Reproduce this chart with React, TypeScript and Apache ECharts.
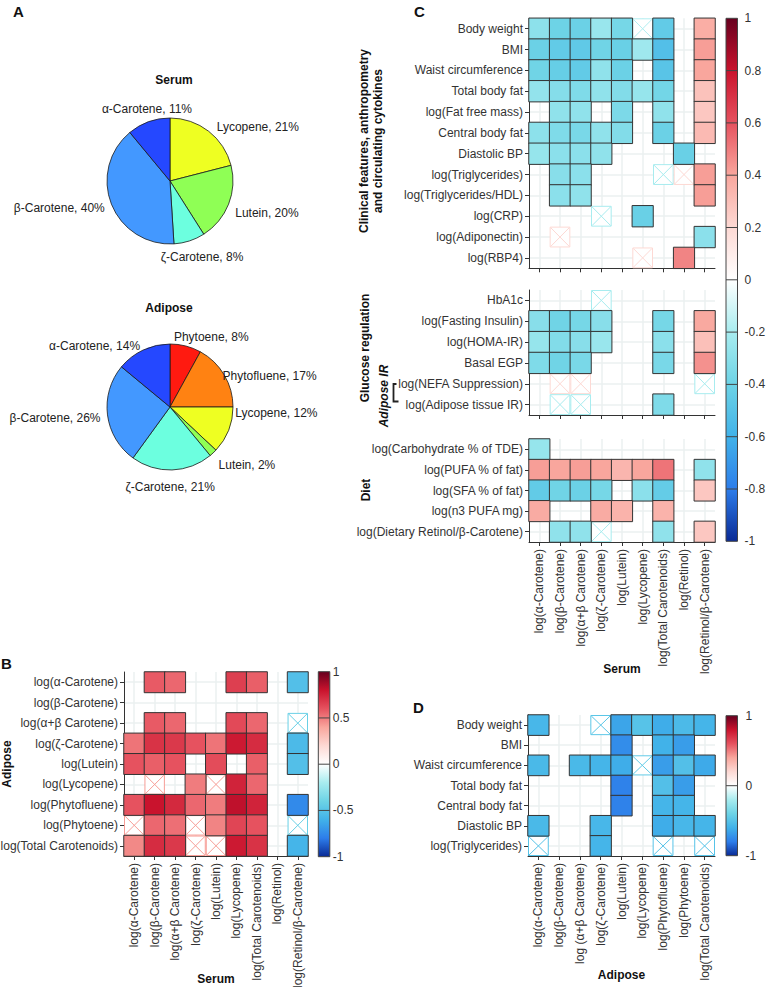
import React, { useEffect, useRef } from 'react';
import * as echarts from 'echarts';

// ---------- Data ----------
const serumPieNames = ['Lycopene', 'Lutein', 'ζ-Carotene', 'β-Carotene', 'α-Carotene'];
const serumPieValues = [21, 20, 8, 40, 11];
const adiposePieNames = ['Phytoene', 'Phytofluene', 'Lycopene', 'Lutein', 'ζ-Carotene', 'β-Carotene', 'α-Carotene'];
const adiposePieValues = [8, 17, 12, 2, 21, 26, 14];

const serumCols = ['log(α-Carotene)', 'log(β-Carotene)', 'log(α+β Carotene)', 'log(ζ-Carotene)', 'log(Lutein)', 'log(Lycopene)', 'log(Total Carotenoids)', 'log(Retinol)', 'log(Retinol/β-Carotene)'];
const adiposeRowsB = ['log(α-Carotene)', 'log(β-Carotene)', 'log(α+β Carotene)', 'log(ζ-Carotene)', 'log(Lutein)', 'log(Lycopene)', 'log(Phytofluene)', 'log(Phytoene)', 'log(Total Carotenoids)'];
const adiposeColsD = ['log(α-Carotene)', 'log(β-Carotene)', 'log (α+β Carotene)', 'log(ζ-Carotene)', 'log(Lutein)', 'log(Lycopene)', 'log(Phytofluene)', 'log(Phytoene)', 'log(Total Carotenoids)'];
const c1Rows = ['Body weight', 'BMI', 'Waist circumference', 'Total body fat', 'log(Fat free mass)', 'Central body fat', 'Diastolic BP', 'log(Triglycerides)', 'log(Triglycerides/HDL)', 'log(CRP)', 'log(Adiponectin)', 'log(RBP4)'];
const c2Rows = ['HbA1c', 'log(Fasting Insulin)', 'log(HOMA-IR)', 'Basal EGP', 'log(NEFA Suppression)', 'log(Adipose tissue IR)'];
const c3Rows = ['log(Carbohydrate % of TDE)', 'log(PUFA % of fat)', 'log(SFA % of fat)', 'log(n3 PUFA mg)', 'log(Dietary Retinol/β-Carotene)'];
const dRows = ['Body weight', 'BMI', 'Waist circumference', 'Total body fat', 'Central body fat', 'Diastolic BP', 'log(Triglycerides)'];

const _ = null;
const bValues = [
  [_, 0.58, 0.55, _, _, 0.66, 0.57, _, -0.52],
  [_, _, _, _, _, _, _, _, _],
  [_, 0.58, 0.55, _, _, 0.63, 0.55, _, -0.42],
  [0.52, 0.7, 0.68, 0.6, 0.52, 0.78, 0.72, _, -0.55],
  [0.6, 0.57, 0.6, _, 0.62, _, 0.57, _, -0.52],
  [_, 0.42, _, 0.5, 0.42, 0.75, 0.55, _, _],
  [0.6, 0.8, 0.73, 0.55, 0.5, 0.82, 0.75, _, -0.75],
  [0.42, 0.55, 0.53, 0.42, 0.48, 0.64, 0.6, _, -0.42],
  [0.47, 0.72, 0.68, 0.42, 0.42, 0.78, 0.7, _, -0.58],
];
const bCrossed = [[2, 8], [5, 1], [5, 4], [7, 0], [7, 3], [7, 8], [8, 3], [8, 4]];

const c1Values = [
  [-0.29, -0.4, -0.41, -0.25, -0.37, -0.18, -0.45, _, 0.37],
  [-0.41, -0.45, -0.46, -0.39, -0.42, -0.23, -0.52, _, 0.42],
  [-0.39, -0.43, -0.45, -0.28, -0.41, _, -0.49, _, 0.4],
  [-0.27, -0.32, -0.34, -0.28, -0.33, -0.26, -0.38, _, 0.29],
  [_, -0.28, -0.28, _, -0.35, _, -0.28, _, 0.27],
  [-0.29, -0.34, -0.36, -0.28, -0.33, _, -0.41, _, 0.32],
  [-0.26, -0.3, -0.3, -0.28, _, _, _, -0.42, _],
  [_, -0.31, -0.3, _, _, _, -0.2, 0.2, 0.42],
  [_, -0.3, -0.28, _, _, _, _, _, 0.42],
  [_, _, _, -0.2, _, -0.42, _, _, _],
  [_, 0.2, _, _, _, _, _, _, -0.3],
  [_, _, _, _, _, 0.2, _, 0.48, _],
];
const c1Crossed = [[0, 5], [7, 6], [7, 7], [9, 3], [10, 1], [11, 5]];

const c2Values = [
  [_, _, _, -0.2, _, _, _, _, _],
  [-0.31, -0.39, -0.37, -0.31, _, _, -0.37, _, 0.39],
  [-0.26, -0.33, -0.31, -0.25, _, _, -0.3, _, 0.3],
  [-0.34, -0.39, -0.36, _, _, _, -0.36, _, 0.45],
  [_, 0.2, 0.2, _, _, _, _, _, -0.2],
  [_, -0.2, -0.2, _, _, _, -0.34, _, _],
];
const c2Crossed = [[0, 3], [4, 1], [4, 2], [4, 8], [5, 1], [5, 2]];

const c3Values = [
  [-0.26, _, _, _, _, _, _, _, _],
  [0.42, 0.4, 0.42, 0.4, 0.34, 0.4, 0.52, _, -0.28],
  [-0.45, -0.39, -0.41, -0.37, _, -0.3, -0.44, _, 0.27],
  [0.38, _, _, 0.38, 0.35, _, 0.35, _, _],
  [_, -0.28, -0.28, -0.2, _, _, -0.28, _, 0.27],
];
const c3Crossed = [[4, 3]];

const dValues = [
  [-0.57, _, _, -0.48, -0.65, -0.5, -0.62, -0.55, -0.58],
  [_, _, _, _, -0.74, _, -0.6, -0.68, _],
  [-0.56, _, -0.56, -0.58, -0.62, -0.45, -0.68, -0.52, -0.63],
  [_, _, _, _, -0.78, _, -0.52, -0.68, _],
  [_, _, _, _, -0.78, _, -0.58, -0.58, _],
  [-0.56, _, _, -0.57, _, _, -0.62, -0.57, -0.58],
  [-0.5, _, _, -0.58, _, _, -0.5, _, -0.5],
];
const dCrossed = [[0, 3], [2, 5], [6, 0], [6, 6], [6, 8]];

const cTicks = [1, 0.8, 0.6, 0.4, 0.2, 0, -0.2, -0.4, -0.6, -0.8, -1];
const bTicks = [1, 0.5, 0, -0.5, -1];
const dTicks = [1, 0, -1];

// ---------- Styles ----------
const FONT = "'Liberation Sans', Arial, Helvetica, sans-serif";
const palette = ['#0A2A95', '#2D7DEA', '#41B2E9', '#6DD3E6', '#A8ECEF', '#FFFFFF', '#FDD9D4', '#F9A69D', '#E6525F', '#C9132D', '#67001F'];
const pieColors: Record<string, string> = {
  'Phytoene': '#FF1A10', 'Phytofluene': '#FF8212', 'Lycopene': '#EEFF22', 'Lutein': '#8FFF55',
  'ζ-Carotene': '#6CFFDF', 'β-Carotene': '#4398FF', 'α-Carotene': '#2548FF',
};
const serumNudge = [{ dx: 3, dy: 0 }, { dx: 0, dy: 7 }, { align: 'center', dx: 9, dy: 11 }, { dx: 0, dy: 2 }, { align: 'center', dx: 2, dy: -8 }];
const adiposeNudge = [{ dx: -15, dy: -4 }, { dx: -8, dy: 4 }, { dx: 0, dy: -19 }, { dx: 0, dy: 8 }, { align: 'center', dx: -4, dy: 12 }, { dx: 0, dy: 2 }, { dx: 1, dy: 1 }];

function splitCells(values: (number | null)[][], crossed: number[][]) {
  const sig: number[][] = [];
  const ns: number[][] = [];
  values.forEach((row, r) => row.forEach((v, c) => {
    if (v === null) return;
    const isX = crossed.some(([rr, cc]) => rr === r && cc === c);
    (isX ? ns : sig).push([c, r, v]);
  }));
  return { sig, ns };
}

const renderCross = (params: any, api: any) => {
  const p = api.coord([api.value(0), api.value(1)]);
  const s = api.size([1, 1]);
  const w = s[0], h = s[1];
  const x0 = p[0] - w / 2, y0 = p[1] - h / 2;
  const color = api.visual('color');
  return {
    type: 'group',
    children: [
      { type: 'rect', shape: { x: x0 + 0.5, y: y0 + 0.5, width: w - 1, height: h - 1 }, style: { fill: '#fff', stroke: color, lineWidth: 1 } },
      { type: 'line', shape: { x1: x0 + 1, y1: y0 + 1, x2: x0 + w - 1, y2: y0 + h - 1 }, style: { stroke: color, lineWidth: 1 } },
      { type: 'line', shape: { x1: x0 + w - 1, y1: y0 + 1, x2: x0 + 1, y2: y0 + h - 1 }, style: { stroke: color, lineWidth: 1 } },
    ],
  };
};

function catAxis(gridIndex: number, data: string[], isX: boolean, showLabels: boolean, name?: string, nameGap?: number) {
  return {
    type: 'category', gridIndex, data, inverse: !isX,
    axisLine: { show: true, lineStyle: { color: '#333', width: 1 } },
    axisTick: { show: true, alignWithLabel: true, interval: 0, length: 4, lineStyle: { color: '#333', width: 1 } },
    axisLabel: { show: showLabels, interval: 0, rotate: isX ? 90 : 0, fontSize: 12, color: '#333', margin: isX ? 7 : 6, fontFamily: FONT },
    splitLine: { show: true, alignWithLabel: true, interval: 0, lineStyle: { color: '#EBF1F1', width: 1.5 } },
    name: name || '', nameLocation: 'middle', nameGap: nameGap || 0, nameMoveOverlap: false,
    nameTextStyle: { fontSize: 12, fontWeight: 'bold', color: '#111', fontFamily: FONT },
  };
}

function colorbar(x: number, top: number, bottom: number, ticks: number[], labelGap: number) {
  const w = 11.5;
  const h = bottom - top;
  const yOf = (v: number) => top + ((1 - v) / 2) * h;
  const stops = palette.map((c, i) => ({ offset: 1 - i / (palette.length - 1), color: c })).reverse();
  const els: any[] = [
    { type: 'rect', shape: { x, y: top, width: w, height: h }, style: { fill: { type: 'linear', x: 0, y: 0, x2: 0, y2: 1, colorStops: stops }, stroke: '#444', lineWidth: 1 } },
  ];
  ticks.forEach((v) => {
    if (v < 1 && v > -1) {
      els.push({ type: 'line', shape: { x1: x, y1: yOf(v), x2: x + w, y2: yOf(v) }, style: { stroke: '#444', lineWidth: 1 } });
    }
    els.push({ type: 'text', x: x + w + labelGap, y: yOf(v), style: { text: String(v), fontSize: 12, fontFamily: FONT, fill: '#333', align: 'left', verticalAlign: 'middle' } });
  });
  return els;
}

function txt(text: string, x: number, y: number, opts: any = {}) {
  return {
    type: 'text', x, y, rotation: opts.rotation || 0,
    style: {
      text, fontSize: opts.fontSize || 12, fontWeight: opts.fontWeight || 'bold', fontStyle: opts.fontStyle || 'normal',
      fontFamily: FONT, fill: opts.fill || '#111', align: 'center', verticalAlign: 'middle', lineHeight: opts.lineHeight || 14,
    },
  };
}

export default function App() {
  const ref = useRef<HTMLDivElement>(null);
  useEffect(() => {
    if (!ref.current) return;
    const chart = echarts.init(ref.current, undefined, { renderer: 'svg' });

    const B = splitCells(bValues, bCrossed);
    const C1 = splitCells(c1Values, c1Crossed);
    const C2 = splitCells(c2Values, c2Crossed);
    const C3 = splitCells(c3Values, c3Crossed);
    const D = splitCells(dValues, dCrossed);

    const heat = (i: number, data: number[][]) => ({
      type: 'heatmap', xAxisIndex: i, yAxisIndex: i, data, z: 3,
      itemStyle: { borderColor: '#333', borderWidth: 1 }, emphasis: { disabled: true },
    });
    const cross = (i: number, data: number[][]) => ({
      type: 'custom', xAxisIndex: i, yAxisIndex: i, data, z: 2, silent: true,
      encode: { x: 0, y: 1 }, renderItem: renderCross,
    });

    const pie = (names: string[], values: number[], center: number[], nudge: any[]) => ({
      type: 'pie', center, radius: 63, startAngle: 90, clockwise: true, avoidLabelOverlap: false,
      data: names.map((n, i) => ({ name: n, value: values[i], itemStyle: { color: pieColors[n] } })),
      itemStyle: { borderColor: '#1a1a1a', borderWidth: 0.8 },
      label: { show: true, position: 'outside', formatter: '{b}, {c}%', fontSize: 12, color: '#222', fontFamily: FONT, distanceToLabelLine: 2 },
      labelLine: { show: false, length: 5, length2: 0 },
      labelLayout: (p: any) => nudge[p.dataIndex],
      emphasis: { disabled: true }, silent: true,
    });

    const option: any = {
      animation: false,
      textStyle: { fontFamily: FONT },
      grid: [
        { left: 124, top: 672, width: 184, height: 184, containLabel: false, outerBoundsMode: 'none' },
        { left: 529, top: 18.3, width: 186, height: 250, containLabel: false, outerBoundsMode: 'none' },
        { left: 529, top: 290, width: 186, height: 125, containLabel: false, outerBoundsMode: 'none' },
        { left: 529, top: 439, width: 186, height: 103, containLabel: false, outerBoundsMode: 'none' },
        { left: 528, top: 715, width: 187, height: 141, containLabel: false, outerBoundsMode: 'none' },
      ],
      xAxis: [
        catAxis(0, serumCols, true, true, 'Serum', 117),
        catAxis(1, serumCols, true, false),
        catAxis(2, serumCols, true, false),
        catAxis(3, serumCols, true, true, 'Serum', 121),
        catAxis(4, adiposeColsD, true, true, 'Adipose', 113),
      ],
      yAxis: [
        catAxis(0, adiposeRowsB, false, true, 'Adipose', 111),
        catAxis(1, c1Rows, false, true),
        catAxis(2, c2Rows, false, true),
        catAxis(3, c3Rows, false, true),
        catAxis(4, dRows, false, true),
      ],
      visualMap: [{
        type: 'continuous', show: false, min: -1, max: 1, dimension: 2,
        seriesIndex: [2, 3, 4, 5, 6, 7, 8, 9, 10, 11], inRange: { color: palette },
      }],
      series: [
        pie(serumPieNames, serumPieValues, [170, 181], serumNudge),
        pie(adiposePieNames, adiposePieValues, [170, 407], adiposeNudge),
        heat(0, B.sig), cross(0, B.ns),
        heat(1, C1.sig), cross(1, C1.ns),
        heat(2, C2.sig), cross(2, C2.ns),
        heat(3, C3.sig), cross(3, C3.ns),
        heat(4, D.sig), cross(4, D.ns),
      ],
      graphic: [
        txt('A', 18.5, 11, { fontSize: 15 }),
        txt('B', 6.5, 663, { fontSize: 15 }),
        txt('C', 419.5, 11, { fontSize: 15 }),
        txt('D', 418.5, 707, { fontSize: 15 }),
        txt('Serum', 174, 80),
        txt('Adipose', 169, 308),
        txt('Clinical features, anthropometry\nand circulating cytokines', 370.5, 141, { rotation: Math.PI / 2 }),
        txt('Glucose regulation', 365, 348, { rotation: Math.PI / 2 }),
        txt('Adipose IR', 383.5, 396, { rotation: Math.PI / 2, fontStyle: 'italic' }),
        txt('Diet', 366, 490, { rotation: Math.PI / 2 }),
        { type: 'polyline', shape: { points: [[396.5, 384], [393.5, 384], [393.5, 401.5], [398.5, 401.5]] }, style: { stroke: '#222', lineWidth: 1.8, fill: null } },
        ...colorbar(726, 18.3, 541.3, cTicks, 7),
        ...colorbar(318.3, 671.7, 856.7, bTicks, 3),
        ...colorbar(726, 715.7, 855.7, dTicks, 8),
      ],
    };
    chart.setOption(option);
    return () => chart.dispose();
  }, []);
  return <div ref={ref} style={{ position: 'absolute', left: 0, top: 0, width: 767, height: 987, background: '#fff' }} />;
}
